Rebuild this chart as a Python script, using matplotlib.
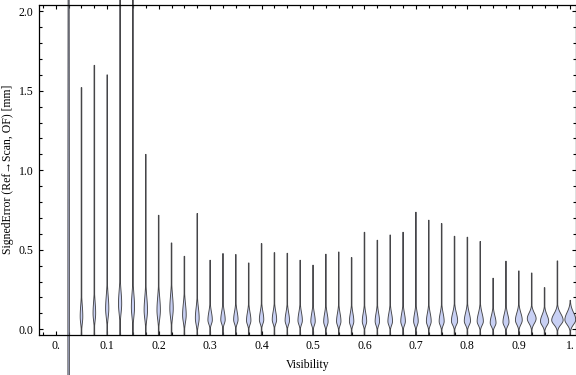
import numpy as np
import matplotlib
matplotlib.use("Agg")
import matplotlib.pyplot as plt
from matplotlib.ticker import MultipleLocator, FixedLocator

# ---------------- data ----------------
visibility = [0.025, 0.05, 0.075, 0.1, 0.125, 0.15, 0.175, 0.2, 0.225, 0.25,
              0.275, 0.3, 0.325, 0.35, 0.375, 0.4, 0.425, 0.45, 0.475, 0.5,
              0.525, 0.55, 0.575, 0.6, 0.625, 0.65, 0.675, 0.7, 0.725, 0.75,
              0.775, 0.8, 0.825, 0.85, 0.875, 0.9, 0.925, 0.95, 0.975, 1.0]

err_max = [2.6, 1.52, 1.66, 1.60, 2.3, 2.3, 1.10, 0.717, 0.543, 0.459,
           0.728, 0.434, 0.476, 0.470, 0.417, 0.539, 0.482, 0.478, 0.434, 0.403,
           0.472, 0.486, 0.451, 0.610, 0.560, 0.593, 0.610, 0.736, 0.686, 0.665,
           0.585, 0.579, 0.552, 0.321, 0.428, 0.367, 0.354, 0.262, 0.430, 0.182]

err_min = [-0.6, -0.035, -0.035, -0.035, -0.035, -0.035, -0.035, -0.035, -0.035, -0.035,
           -0.035, -0.035, -0.035, -0.035, -0.035, -0.035, -0.035, -0.035, -0.035, -0.035,
           -0.035, -0.035, -0.035, -0.035, -0.035, -0.035, -0.035, -0.035, -0.035, -0.035,
           -0.035, -0.035, -0.035, -0.035, -0.035, -0.035, -0.035, -0.035, -0.035, -0.035]

err_mode = [0.10, 0.08, 0.10, 0.13, 0.16, 0.14, 0.12, 0.12, 0.13, 0.09,
            0.07, 0.058, 0.060, 0.060, 0.055, 0.060, 0.060, 0.055, 0.055, 0.050,
            0.048, 0.050, 0.050, 0.050, 0.050, 0.050, 0.050, 0.050, 0.050, 0.050,
            0.052, 0.052, 0.050, 0.040, 0.045, 0.057, 0.067, 0.050, 0.057, 0.060]

spread_lo = [1.5, 0.045, 0.045, 0.055, 0.06, 0.06, 0.055, 0.055, 0.055, 0.045,
             0.04, 0.025, 0.025, 0.025, 0.025, 0.025, 0.025, 0.025, 0.025, 0.025,
             0.025, 0.025, 0.025, 0.025, 0.025, 0.025, 0.025, 0.025, 0.025, 0.025,
             0.025, 0.025, 0.025, 0.022, 0.024, 0.027, 0.030, 0.026, 0.028, 0.030]

spread_hi = [2.5, 0.07, 0.07, 0.08, 0.08, 0.08, 0.08, 0.08, 0.08, 0.07,
             0.065, 0.05, 0.05, 0.05, 0.05, 0.05, 0.05, 0.05, 0.05, 0.05,
             0.05, 0.05, 0.05, 0.05, 0.05, 0.05, 0.05, 0.05, 0.05, 0.05,
             0.05, 0.05, 0.05, 0.045, 0.048, 0.045, 0.035, 0.04, 0.04, 0.045]

peak_density = [0.75, 1.3, 1.3, 1.6, 1.6, 1.6, 1.7, 1.7, 1.7, 1.8,
                1.9, 2.2, 2.2, 2.2, 2.2, 2.2, 2.2, 2.2, 2.2, 2.2,
                2.2, 2.2, 2.2, 2.2, 2.2, 2.3, 2.3, 2.3, 2.4, 2.5,
                3.1, 3.1, 3.1, 2.9, 3.0, 3.4, 4.4, 4.1, 5.7, 5.4]

x_ticks = [0.0, 0.1, 0.2, 0.3, 0.4, 0.5, 0.6, 0.7, 0.8, 0.9, 1.0]
x_ticklabels = ["0.", "0.1", "0.2", "0.3", "0.4", "0.5", "0.6", "0.7", "0.8", "0.9", "1."]
y_ticks = [0.0, 0.5, 1.0, 1.5, 2.0]
y_ticklabels = ["0.0", "0.5", "1.0", "1.5", "2.0"]

# ---------------- figure ----------------
plt.rcParams["font.family"] = ["Liberation Serif", "DejaVu Serif"]
fig = plt.figure(figsize=(5.76, 3.75), dpi=100)
ax = fig.add_axes([39.3 / 576, 40.3 / 375, 1 - 39.3 / 576, (334.7 - 4.7) / 375])

xlim = (-0.032, 1.0111)
ax.set_xlim(*xlim)
ax.set_ylim(-0.034, 2.0415)

px_to_x = (xlim[1] - xlim[0]) / (576 - 39.3)
tail_px = 0.3
fill_col = "#c8d0f4"
edge_col = "#454548"

for v, lo, hi, m, slo, shi, pdn in zip(visibility, err_min, err_max, err_mode,
                                       spread_lo, spread_hi, peak_density):
    ys = np.linspace(lo, hi, 600)
    s = np.where(ys < m, slo, shi)
    w_px = np.maximum(pdn * np.exp(-0.5 * ((ys - m) / s) ** 2), tail_px)
    w = w_px * px_to_x
    xs = np.concatenate([v - w, (v + w)[::-1]])
    yy = np.concatenate([ys, ys[::-1]])
    ax.fill(xs, yy, facecolor=fill_col, edgecolor=edge_col, linewidth=0.65,
            clip_on=False, zorder=2)

ax.xaxis.set_major_locator(FixedLocator(x_ticks))
ax.set_xticklabels(x_ticklabels)
ax.xaxis.set_minor_locator(MultipleLocator(0.025))
ax.yaxis.set_major_locator(FixedLocator(y_ticks))
ax.set_yticklabels(y_ticklabels)
ax.yaxis.set_minor_locator(MultipleLocator(0.1))

ax.tick_params(which="both", direction="in", top=True, right=True,
               labelsize=8.5, width=0.8, color="black")
ax.tick_params(which="major", length=3.2)
ax.tick_params(which="minor", length=2.3)
ax.tick_params(axis="x", pad=3.5)
ax.tick_params(axis="y", pad=4.0)

for sp in ax.spines.values():
    sp.set_linewidth(0.9)

ax.set_xlabel("Visibility", fontsize=8.5, labelpad=5)
ax.set_ylabel("SignedError (Ref\u2192Scan, OF) [mm]", fontsize=8.5, labelpad=3.5)

fig.savefig("out.png", dpi=100)
